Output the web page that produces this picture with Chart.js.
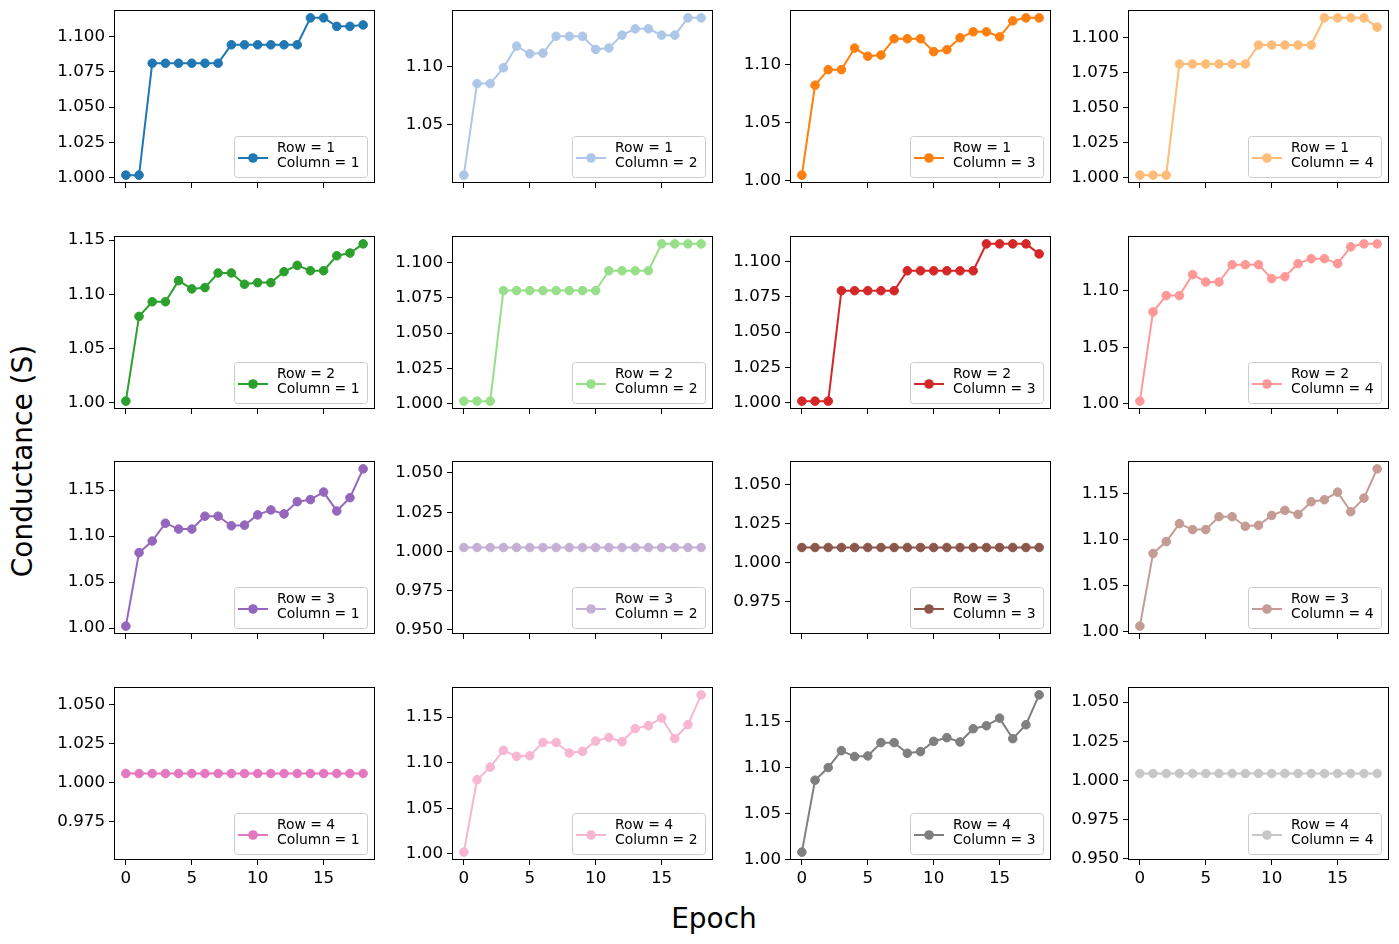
<!DOCTYPE html>
<html>
<head>
<meta charset="utf-8">
<script src="https://cdn.jsdelivr.net/npm/chart.js@4.4.0/dist/chart.umd.min.js"></script>
<style>
  body { margin: 0; background: #fff; width: 1399px; height: 944px; position: relative; overflow: hidden; font-family: 'DejaVu Sans', sans-serif; }
  canvas.panel { position: absolute; }
  #ylab { position: absolute; left: 22px; top: 461px; transform: translate(-50%, -50%) rotate(-90deg); font-size: 28px; white-space: nowrap; color: #000; }
  #xlab { position: absolute; left: 714px; top: 918px; transform: translate(-50%, -50%); font-size: 28px; color: #000; }
</style>
</head>
<body>
<div id="ylab">Conductance (S)</div>
<div id="xlab">Epoch</div>
<script>
// epochs on the x axis
const epochs = [0, 1, 2, 3, 4, 5, 6, 7, 8, 9, 10, 11, 12, 13, 14, 15, 16, 17, 18];

// conductance per crossbar cell (row r, column c)
const r1c1 = [1.002, 1.002, 1.081, 1.081, 1.081, 1.081, 1.081, 1.081, 1.094, 1.094, 1.094, 1.094, 1.094, 1.094, 1.113, 1.113, 1.107, 1.107, 1.108];
const r1c2 = [1.007, 1.0855, 1.0855, 1.099, 1.1176, 1.111, 1.1116, 1.126, 1.126, 1.126, 1.1148, 1.116, 1.127, 1.1324, 1.1324, 1.127, 1.127, 1.1418, 1.1418];
const r1c3 = [1.0046, 1.082, 1.0954, 1.0954, 1.114, 1.107, 1.108, 1.122, 1.122, 1.122, 1.1109, 1.1126, 1.1229, 1.128, 1.128, 1.1237, 1.1374, 1.140, 1.140];
const r1c4 = [1.002, 1.002, 1.002, 1.0813, 1.0813, 1.0813, 1.0813, 1.0813, 1.0813, 1.0948, 1.0948, 1.0948, 1.0948, 1.0948, 1.1142, 1.1142, 1.1142, 1.1142, 1.1076];
const r2c1 = [1.0012, 1.0795, 1.093, 1.093, 1.1125, 1.1049, 1.1061, 1.1196, 1.1196, 1.1092, 1.1107, 1.1107, 1.1208, 1.1266, 1.1217, 1.1217, 1.1355, 1.138, 1.1465];
const r2c2 = [1.0017, 1.0017, 1.0017, 1.0802, 1.0802, 1.0802, 1.0802, 1.0802, 1.0802, 1.0802, 1.0802, 1.0943, 1.0943, 1.0943, 1.0943, 1.1134, 1.1134, 1.1134, 1.1134];
const r2c3 = [1.001, 1.001, 1.001, 1.0793, 1.0793, 1.0793, 1.0793, 1.0793, 1.0934, 1.0934, 1.0934, 1.0934, 1.0934, 1.0934, 1.1125, 1.1125, 1.1125, 1.1125, 1.1054];
const r2c4 = [1.0023, 1.0812, 1.0956, 1.0956, 1.1141, 1.1076, 1.1076, 1.1229, 1.1229, 1.1229, 1.1106, 1.1123, 1.1238, 1.1282, 1.1282, 1.1238, 1.1387, 1.1413, 1.1413];
const r3c1 = [1.0022, 1.082, 1.0946, 1.114, 1.1076, 1.1076, 1.1216, 1.1216, 1.1112, 1.1119, 1.123, 1.1284, 1.1241, 1.1374, 1.1396, 1.1478, 1.1273, 1.1417, 1.173];
const r3c2 = [1.0025, 1.0025, 1.0025, 1.0025, 1.0025, 1.0025, 1.0025, 1.0025, 1.0025, 1.0025, 1.0025, 1.0025, 1.0025, 1.0025, 1.0025, 1.0025, 1.0025, 1.0025, 1.0025];
const r3c3 = [1.0097, 1.0097, 1.0097, 1.0097, 1.0097, 1.0097, 1.0097, 1.0097, 1.0097, 1.0097, 1.0097, 1.0097, 1.0097, 1.0097, 1.0097, 1.0097, 1.0097, 1.0097, 1.0097];
const r3c4 = [1.0055, 1.0848, 1.0978, 1.1174, 1.1109, 1.1109, 1.125, 1.125, 1.1145, 1.1156, 1.1264, 1.1319, 1.1275, 1.1413, 1.1435, 1.1518, 1.1304, 1.1453, 1.1772];
const r4c1 = [1.0058, 1.0058, 1.0058, 1.0058, 1.0058, 1.0058, 1.0058, 1.0058, 1.0058, 1.0058, 1.0058, 1.0058, 1.0058, 1.0058, 1.0058, 1.0058, 1.0058, 1.0058, 1.0058];
const r4c2 = [1.0018, 1.0812, 1.095, 1.1134, 1.1069, 1.1076, 1.1221, 1.1221, 1.1105, 1.1123, 1.1236, 1.1275, 1.1228, 1.1373, 1.1406, 1.1489, 1.1264, 1.1417, 1.1743];
const r4c3 = [1.0083, 1.0863, 1.100, 1.1183, 1.1119, 1.1126, 1.127, 1.127, 1.1155, 1.1173, 1.1284, 1.1324, 1.1277, 1.1421, 1.1453, 1.1536, 1.1313, 1.1464, 1.1788];
const r4c4 = [1.0044, 1.0044, 1.0044, 1.0044, 1.0044, 1.0044, 1.0044, 1.0044, 1.0044, 1.0044, 1.0044, 1.0044, 1.0044, 1.0044, 1.0044, 1.0044, 1.0044, 1.0044, 1.0044];

const series = [
  [r1c1, r1c2, r1c3, r1c4],
  [r2c1, r2c2, r2c3, r2c4],
  [r3c1, r3c2, r3c3, r3c4],
  [r4c1, r4c2, r4c3, r4c4]
];

// tab20 colours, one per cell
const colors = [
  ['#1f77b4', '#aec7e8', '#ff7f0e', '#ffbb78'],
  ['#2ca02c', '#98df8a', '#d62728', '#ff9896'],
  ['#9467bd', '#c5b0d5', '#8c564b', '#c49c94'],
  ['#e377c2', '#f7b6d2', '#7f7f7f', '#c7c7c7']
];

// y tick spacing per panel
const yStep = [
  [0.025, 0.05, 0.05, 0.025],
  [0.05, 0.025, 0.025, 0.05],
  [0.05, 0.025, 0.025, 0.05],
  [0.025, 0.05, 0.05, 0.025]
];
const xTicks = [0, 5, 10, 15];

// panel geometry (px)
const PLOT_LEFT = [114, 452, 790, 1128];
const PLOT_TOP = [10, 236, 461, 687];
const PLOT_W = 261, PLOT_H = 173;
const AXIS_W = 75, PAD_TOP = 20, PAD_RIGHT = 10, AXIS_H = 30;
const TICK_FONT = { family: 'DejaVu Sans', size: 16.7 };

// matplotlib style box around the axes
const frame = {
  id: 'frame',
  afterDatasetsDraw(chart) {
    const { ctx, chartArea: a } = chart;
    ctx.save();
    ctx.strokeStyle = '#000';
    ctx.lineWidth = 1;
    ctx.strokeRect(Math.round(a.left) + 0.5, Math.round(a.top) + 0.5, Math.round(a.right - a.left) - 1, Math.round(a.bottom - a.top) - 1);
    ctx.restore();
  }
};

// legend in the lower right corner, two-line label
const mplLegend = {
  id: 'mplLegend',
  afterDraw(chart) {
    const { ctx, chartArea: a } = chart;
    const ds = chart.data.datasets[0];
    const lines = ds.label.split('\n');
    ctx.save();
    ctx.font = '13.9px "DejaVu Sans"';
    const tw = Math.max(...lines.map(l => ctx.measureText(l).width));
    const w = Math.round(tw + 50), h = 41;
    const x = Math.round(a.right - 8 - w), y = Math.round(a.bottom - 6 - h);
    ctx.beginPath();
    ctx.roundRect(x + 0.5, y + 0.5, w, h, 3);
    ctx.fillStyle = 'rgba(255,255,255,0.8)';
    ctx.fill();
    ctx.strokeStyle = '#cccccc';
    ctx.lineWidth = 1;
    ctx.stroke();

    const hy = y + 22;
    ctx.strokeStyle = ds.borderColor;
    ctx.lineWidth = 2;
    ctx.beginPath();
    ctx.moveTo(x + 4, hy);
    ctx.lineTo(x + 34, hy);
    ctx.stroke();
    ctx.fillStyle = ds.borderColor;
    ctx.beginPath();
    ctx.arc(x + 19, hy, 4.8, 0, Math.PI * 2);
    ctx.fill();

    ctx.fillStyle = '#000';
    ctx.textBaseline = 'middle';
    ctx.textAlign = 'left';
    ctx.fillText(lines[0], x + 43, y + 12);
    ctx.fillText(lines[1], x + 43, y + 27);
    ctx.restore();
  }
};

function yRange(vals) {
  const lo = Math.min(...vals), hi = Math.max(...vals);
  if (hi - lo < 1e-9) {
    const d = Math.abs(lo) * 0.055;
    return [lo - d, hi + d];
  }
  const m = (hi - lo) * 0.05;
  return [lo - m, hi + m];
}

for (let r = 0; r < 4; r++) {
  for (let c = 0; c < 4; c++) {
    const vals = series[r][c];
    const color = colors[r][c];
    const step = yStep[r][c];
    const dec = step === 0.025 ? 3 : 2;
    const [ymin, ymax] = yRange(vals);
    const bottomRow = r === 3;

    const canvas = document.createElement('canvas');
    canvas.className = 'panel';
    const W = AXIS_W + PLOT_W + PAD_RIGHT, H = PAD_TOP + PLOT_H + AXIS_H;
    canvas.width = W;
    canvas.height = H;
    canvas.style.width = W + 'px';
    canvas.style.height = H + 'px';
    canvas.style.left = (PLOT_LEFT[c] - AXIS_W) + 'px';
    canvas.style.top = (PLOT_TOP[r] - PAD_TOP) + 'px';
    document.body.appendChild(canvas);

    new Chart(canvas, {
      type: 'line',
      data: {
        datasets: [{
          label: `Row = ${r + 1}\nColumn = ${c + 1}`,
          data: epochs.map((x, i) => ({ x, y: vals[i] })),
          borderColor: color,
          backgroundColor: color,
          pointBackgroundColor: color,
          pointBorderColor: color,
          pointRadius: 4.3,
          pointBorderWidth: 1,
          borderWidth: 2,
          tension: 0,
          clip: false
        }]
      },
      options: {
        responsive: false,
        animation: false,
        devicePixelRatio: 1,
        layout: { padding: { top: PAD_TOP, right: PAD_RIGHT, left: 0, bottom: 0 } },
        plugins: { legend: { display: false }, tooltip: { enabled: false } },
        scales: {
          x: {
            type: 'linear',
            min: -0.9,
            max: 18.9,
            afterFit(s) { s.height = AXIS_H; },
            afterBuildTicks(s) { s.ticks = xTicks.map(v => ({ value: v })); },
            ticks: {
              autoSkip: false,
              maxRotation: 0,
              padding: 4,
              color: '#000',
              font: TICK_FONT,
              callback: v => bottomRow ? String(v) : ''
            },
            grid: { drawOnChartArea: false, drawTicks: true, tickLength: 5, color: '#000', lineWidth: 1 },
            border: { display: false }
          },
          y: {
            type: 'linear',
            min: ymin,
            max: ymax,
            afterFit(s) { s.width = AXIS_W; },
            ticks: {
              stepSize: step,
              includeBounds: false,
              autoSkip: false,
              padding: 4,
              color: '#000',
              font: TICK_FONT,
              callback: v => Number(v).toFixed(dec)
            },
            grid: { drawOnChartArea: false, drawTicks: true, tickLength: 5, color: '#000', lineWidth: 1 },
            border: { display: false }
          }
        }
      },
      plugins: [frame, mplLegend]
    });
  }
}
</script>
</body>
</html>
